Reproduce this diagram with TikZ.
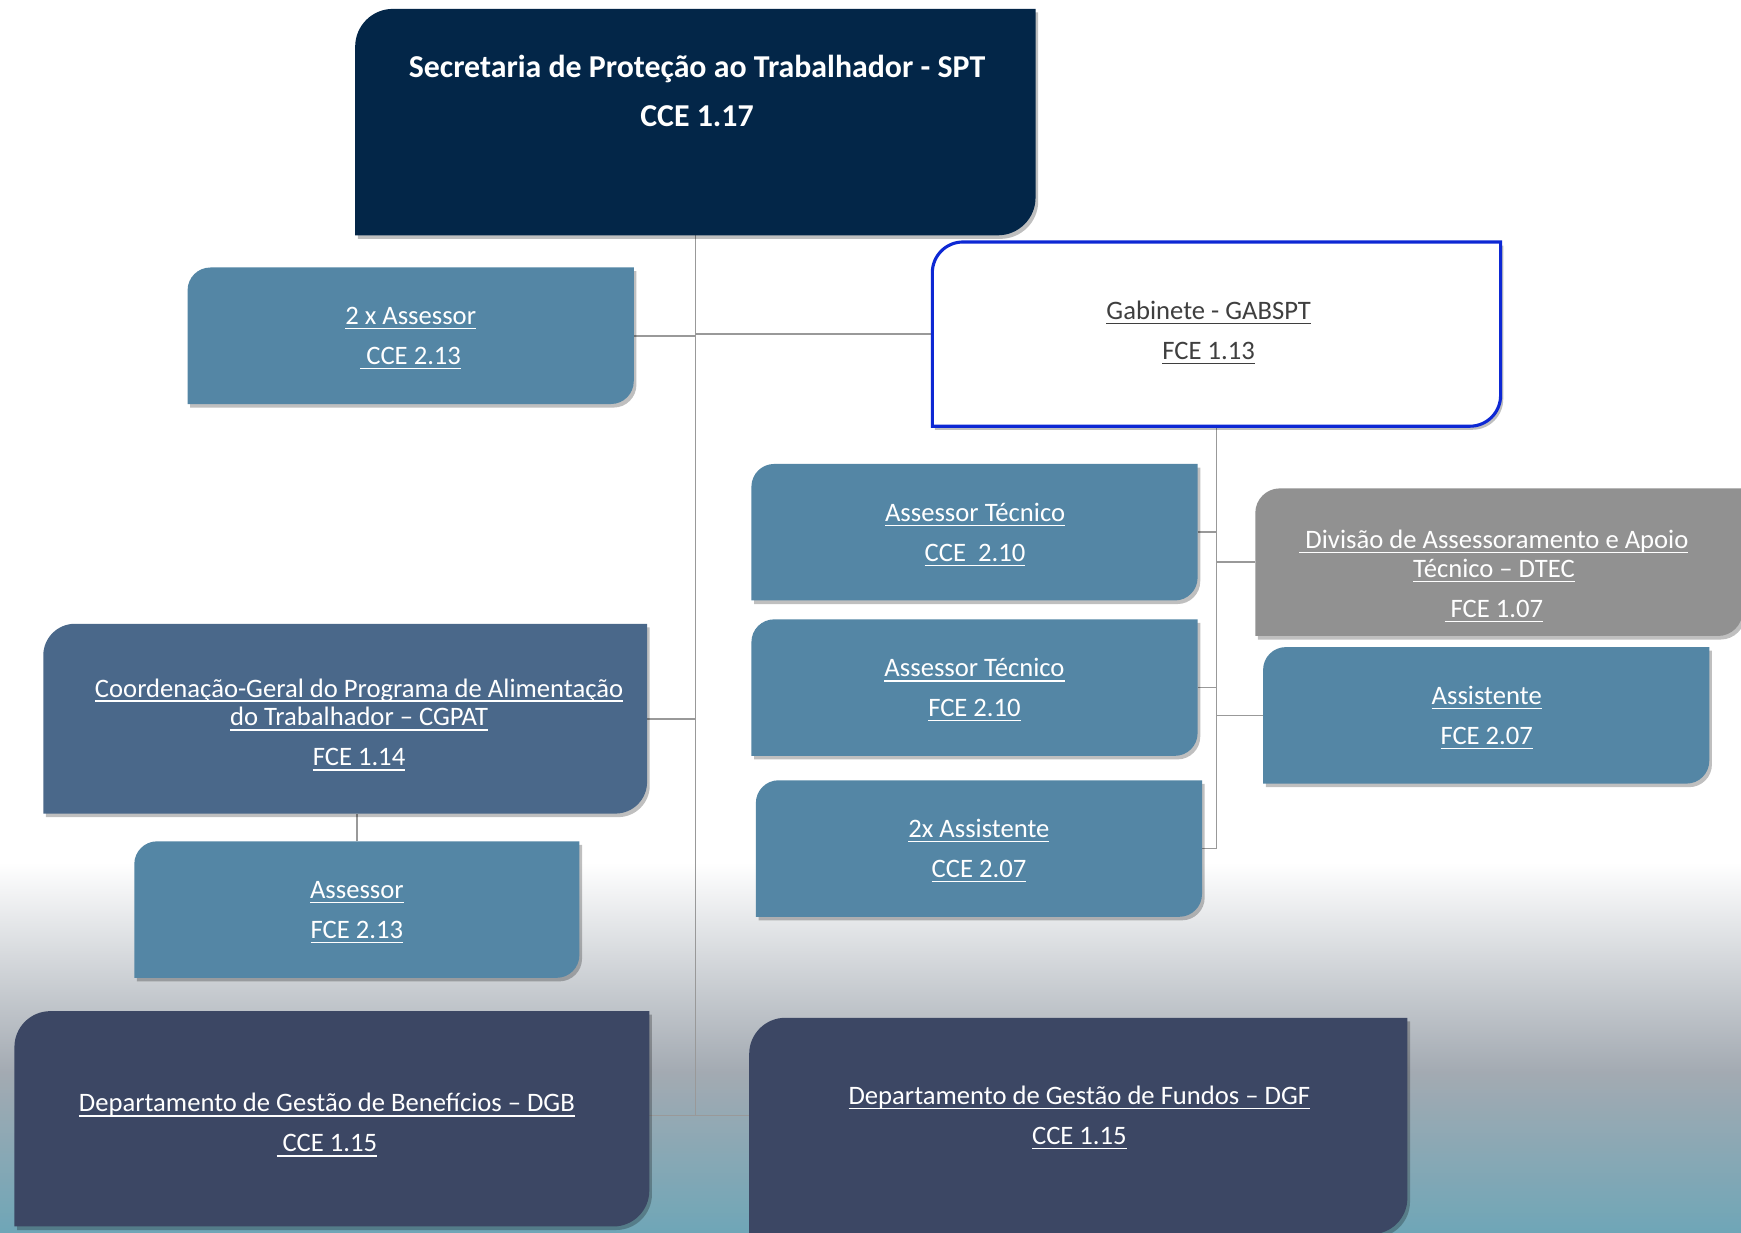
\documentclass[tikz,border=0pt]{standalone}
\usepackage{fontspec}
\setmainfont{Carlito}
\usetikzlibrary{shadows}
\definecolor{sptc}{HTML}{032648}
\definecolor{boxblue}{HTML}{5486A5}
\definecolor{cgpatc}{HTML}{4A688A}
\definecolor{deptc}{HTML}{3C4764}
\definecolor{dtecc}{HTML}{919191}
\definecolor{gabblue}{HTML}{0D28D4}
\definecolor{gabtext}{HTML}{3F3F3F}
\definecolor{connc}{HTML}{999999}
\definecolor{bgmid}{HTML}{A3AAB2}
\definecolor{bgbot}{HTML}{6FA6B7}
\newcommand{\ulx}[1]{\setbox0=\hbox{#1}\rlap{\rule[-2.1pt]{\wd0}{0.6pt}}\box0\rule[-3pt]{0pt}{12pt}}
\newcommand{\tstrut}{\rule[-3.5pt]{0pt}{14.5pt}}
\pgfdeclarelayer{back}
\pgfdeclarelayer{conns}
\pgfsetlayers{back,conns,main}
\newcommand{\orgbox}[6]{%
  \pgfmathsetmacro\rr{min(#4-#2,#5-#3)/6}%
  \path[#6] (#2,#5) -- (#2,#3+\rr) arc[start angle=180,end angle=270,radius=\rr] -- (#4,#3) -- (#4,#5-\rr) arc[start angle=0,end angle=90,radius=\rr] -- cycle;
  \node[boxanchor, minimum width={(#4-#2)*0.5pt}, minimum height={(#5-#3)*0.5pt}] (#1) at ({(#2+#4)/2},{(#3+#5)/2}) {};
}
\tikzset{
  boxanchor/.style={inner sep=0pt, outer sep=0pt, draw=none},
  softshadow/.style={drop shadow={shadow xshift=1.2pt, shadow yshift=-1.6pt, opacity=0.25, fill=black}},
  sptbox/.style={fill=sptc, softshadow},
  bluebox/.style={fill=boxblue, softshadow},
  cgpatbox/.style={fill=cgpatc, softshadow},
  deptbox/.style={fill=deptc, softshadow},
  dtecbox/.style={fill=dtecc, softshadow},
  gabbox/.style={fill=white, draw=gabblue, line width=1.4pt, softshadow},
  txt/.style={inner sep=0pt, outer sep=0pt, align=center, text=white, font=\fontsize{12}{13}\selectfont},
  titletxt/.style={inner sep=0pt, outer sep=0pt, align=center, text=white, font=\bfseries\fontsize{14.35}{22}\selectfont},
  conn/.style={draw=connc, line width=0.75pt}
}
\begin{document}
\begin{tikzpicture}[x=0.5pt, y=-0.5pt]
\useasboundingbox (0,0) rectangle (1568.6,1110);
\begin{pgfonlayer}{back}
  \fill[white] (0,0) rectangle (1568.6,1110);
  \shade[top color=white, bottom color=bgmid] (0,777) rectangle (1568.6,966);
  \shade[top color=bgmid, bottom color=bgbot] (0,966) rectangle (1568.6,1110.5);
\end{pgfonlayer}

% boxes
\orgbox{spt}{320}{8}{933}{212}{sptbox}
\orgbox{ass2}{169}{241}{571}{364}{bluebox}
\orgbox{gab}{840}{218}{1352}{384}{gabbox}
\orgbox{tec1}{677}{418}{1079}{541}{bluebox}
\orgbox{tec2}{677}{558}{1079}{681}{bluebox}
\orgbox{asx}{681}{703}{1083}{826}{bluebox}
\orgbox{dtec}{1131}{440}{1570}{573}{dtecbox}
\orgbox{assist}{1138}{583}{1540}{706}{bluebox}
\orgbox{cgpat}{39}{562}{583}{733}{cgpatbox}
\orgbox{ass3}{121}{758}{522}{881}{bluebox}
\orgbox{dgb}{13}{911}{585}{1105}{deptbox}
\orgbox{dgf}{675}{917}{1268}{1112}{deptbox}

% texts
\node[titletxt] (spt-t) at (628,84.6) {Secretaria de Proteção ao Trabalhador - SPT\tstrut\\CCE 1.17\tstrut};
\node[txt] (ass2-t) at (370,304.5) {\ulx{2 x Assessor}\\[5pt]\ulx{\ CCE 2.13}};
\node[txt, text=gabtext] (gab-t) at (1089,300) {\ulx{Gabinete - GABSPT}\\[5pt]\ulx{FCE 1.13}};
\node[txt] (tec1-t) at (878.5,481.8) {\ulx{Assessor Técnico}\\[5pt]\ulx{CCE\ \ 2.10}};
\node[txt] (tec2-t) at (878,621.8) {\ulx{Assessor Técnico}\\[5pt]\ulx{FCE 2.10}};
\node[txt] (asx-t) at (882,766.8) {\ulx{2x Assistente}\\[5pt]\ulx{CCE 2.07}};
\node[txt] (dtec-t) at (1346,519.3) {\ulx{\ Divisão de Assessoramento e Apoio}\\\ulx{Técnico – DTEC}\\[5pt]\ulx{\ FCE 1.07}};
\node[txt] (assist-t) at (1339.5,646.9) {\ulx{Assistente}\\[5pt]\ulx{FCE 2.07}};
\node[txt] (cgpat-t) at (323.5,653) {\ulx{Coordenação-Geral do Programa de Alimentação}\\\ulx{do Trabalhador – CGPAT}\\[5pt]\ulx{FCE 1.14}};
\node[txt] (ass3-t) at (321.5,821.6) {\ulx{Assessor}\\[5pt]\ulx{FCE 2.13}};
\node[txt] (dgb-t) at (294.5,1013.8) {\ulx{Departamento de Gestão de Benefícios – DGB}\\[5pt]\ulx{\ CCE 1.15}};
\node[txt] (dgf-t) at (972.5,1007) {\ulx{Departamento de Gestão de Fundos – DGF}\\[5pt]\ulx{CCE 1.15}};

% connectors
\begin{pgfonlayer}{conns}
  \coordinate (j4) at (626.5,1005);
  \draw[conn] (spt.south) -- (j4);
  \draw[conn] (ass2.east) -- (ass2.east -| spt.south);
  \draw[conn] (gab.west) -- (gab.west -| spt.south);
  \draw[conn] (cgpat.east) -- (cgpat.east -| spt.south);
  \draw[conn] (ass3.north) -- (ass3.north |- cgpat.south);
  \draw[conn] (dgb.east |- j4) -- (j4) -- (dgf.west |- j4);
  \draw[conn] (gab.south) -- (gab.south |- asx.east);
  \draw[conn] (tec1.east) -- (tec1.east -| gab.south);
  \draw[conn] (tec2.east) -- (tec2.east -| gab.south);
  \draw[conn] (asx.east) -- (asx.east -| gab.south);
  \draw[conn] (dtec.west) -- (dtec.west -| gab.south);
  \draw[conn] (assist.west) -- (assist.west -| gab.south);
\end{pgfonlayer}
\end{tikzpicture}
\end{document}
